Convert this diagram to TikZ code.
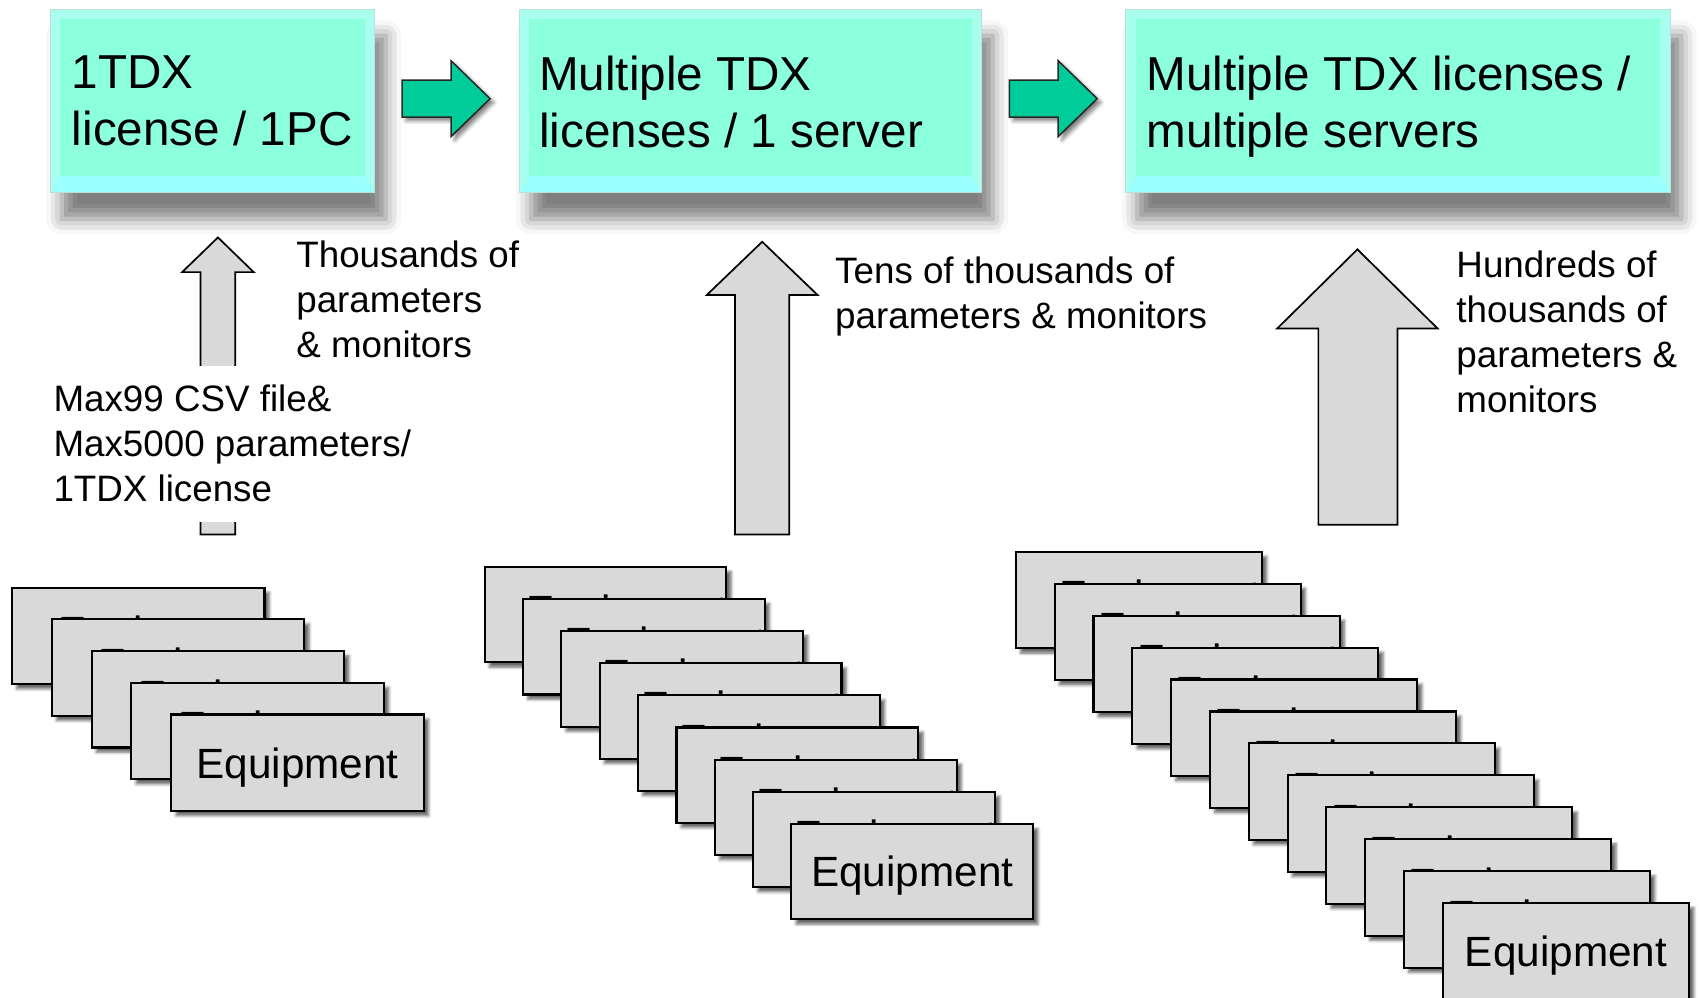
\documentclass[tikz,border=0pt]{standalone}
\usepackage{fontspec}
\setmainfont{Liberation Sans}
\usetikzlibrary{shadows.blur}

\definecolor{licfill}{RGB}{140,255,220}
\definecolor{licedge}{RGB}{168,255,238}
\definecolor{licbot}{RGB}{155,255,255}
\definecolor{licline}{RGB}{190,222,222}
\definecolor{stepgreen}{RGB}{0,204,153}
\definecolor{equipgray}{RGB}{217,217,217}

\tikzset{
  licbox/.style={rectangle, anchor=north west, draw=licline, line width=0.4pt, fill=licedge,
    minimum height=3.38cm,
    blur shadow={shadow xshift=6pt, shadow yshift=-14pt, shadow blur radius=8pt, shadow opacity=50},
    path picture={
      \fill[licbot] (path picture bounding box.south west)
        -- ([shift={(0.18cm,0.3cm)}]path picture bounding box.south west)
        -- ([shift={(-0.18cm,0.3cm)}]path picture bounding box.south east)
        -- (path picture bounding box.south east) -- cycle;
      \fill[licfill] ([shift={(0.18cm,-0.18cm)}]path picture bounding box.north west)
        rectangle ([shift={(-0.18cm,0.3cm)}]path picture bounding box.south east);
    }},
  boxtext/.style={anchor=north west, align=left, inner sep=0pt, font=\fontsize{25}{30}\selectfont},
  note/.style={anchor=north west, align=left, inner sep=0pt, font=\fontsize{19.3}{23.6}\selectfont},
  equip/.style={rectangle, anchor=north west, draw=black, line width=1.1pt, fill=equipgray,
    text depth=0pt, font=\fontsize{22.2}{26}\selectfont,
    blur shadow={shadow xshift=2.5pt, shadow yshift=-2.5pt, shadow blur radius=1.5pt, shadow opacity=60}},
  % label of a box that the next one hides
  behind/.style={label={[xshift=0.4cm, font=\fontsize{22.2}{26}\selectfont]center:Equipment}},
  greenarr/.style={draw=black!85, line width=0.8pt, fill=stepgreen, line join=miter,
    blur shadow={shadow xshift=2pt, shadow yshift=-2pt, shadow blur radius=2pt, shadow opacity=50}},
  grayarr/.style={draw=black, line width=0.9pt, fill=equipgray, line join=miter}
}

\begin{document}
\begin{tikzpicture}[x=0.02cm,y=-0.02cm]
  \useasboundingbox (0,0) rectangle (1568,920);

  % License boxes
  \node[licbox, minimum width=5.98cm] (lic1) at (46,8) {};
  \node[licbox, minimum width=8.52cm] (lic2) at (479,8) {};
  \node[licbox, minimum width=10.04cm] (lic3) at (1038,8) {};
  \node[boxtext] (lic1t) at (66,51) {1TDX\\license / 1PC};
  \node[boxtext] (lic2t) at (497,51) {Multiple TDX\\licenses / 1 server};
  \node[boxtext] (lic3t) at (1057,51) {Multiple TDX licenses /\\multiple servers};

  % Steps between boxes
  \draw[greenarr] (371,74) -- (416,74) -- (416,56) -- (452,91) -- (416,126) -- (416,108) -- (371,108) -- cycle;
  \draw[greenarr] (931,74) -- (976,74) -- (976,56) -- (1012,91) -- (976,126) -- (976,108) -- (931,108) -- cycle;

  % Data flow up
  \draw[grayarr] (185,493) -- (185,251) -- (168,251) -- (201,219) -- (234,251) -- (217,251) -- (217,493) -- cycle;
  \draw[grayarr] (678,493) -- (678,272) -- (652,272) -- (703,223) -- (754,272) -- (728,272) -- (728,493) -- cycle;
  \draw[grayarr] (1216,484) -- (1216,303) -- (1178,303) -- (1252,230) -- (1326,303) -- (1289,303) -- (1289,484) -- cycle;

  % Labels
  \node[note] (thou) at (273,222) {Thousands of\\parameters\\\& monitors};
  \node[note, fill=white, inner xsep=0.1cm, inner ysep=0.36cm] (csv) at (44,337)
    {Max99 CSV file\&\\Max5000 parameters/\\1TDX license};
  \node[note] (tens) at (770,237) {Tens of thousands of\\parameters \& monitors};
  \node[note] (hund) at (1343,231) {Hundreds of\\thousands of\\parameters \&\\monitors};

  % Equipment stacks
  \foreach \i in {0,...,3}
    \node[equip, behind, minimum width=4.66cm, minimum height=1.78cm] (eqa\i) at ({10+36.75*\i},{541+29.25*\i}) {};
  \node[equip, minimum width=4.66cm, minimum height=1.78cm] (eqa4) at (157,658) {Equipment};
  \foreach \i in {0,...,7}
    \node[equip, behind, minimum width=4.46cm, minimum height=1.76cm] (eqb\i) at ({446+35.4*\i},{522+29.6*\i}) {};
  \node[equip, minimum width=4.46cm, minimum height=1.76cm] (eqb8) at (729,759) {Equipment};
  \foreach \i in {0,...,10}
    \node[equip, behind, minimum width=4.54cm, minimum height=1.78cm] (eqc\i) at ({936+35.8*\i},{508+29.45*\i}) {};
  \node[equip, minimum width=4.54cm, minimum height=1.78cm] (eqc11) at (1330,832) {Equipment};
\end{tikzpicture}
\end{document}
